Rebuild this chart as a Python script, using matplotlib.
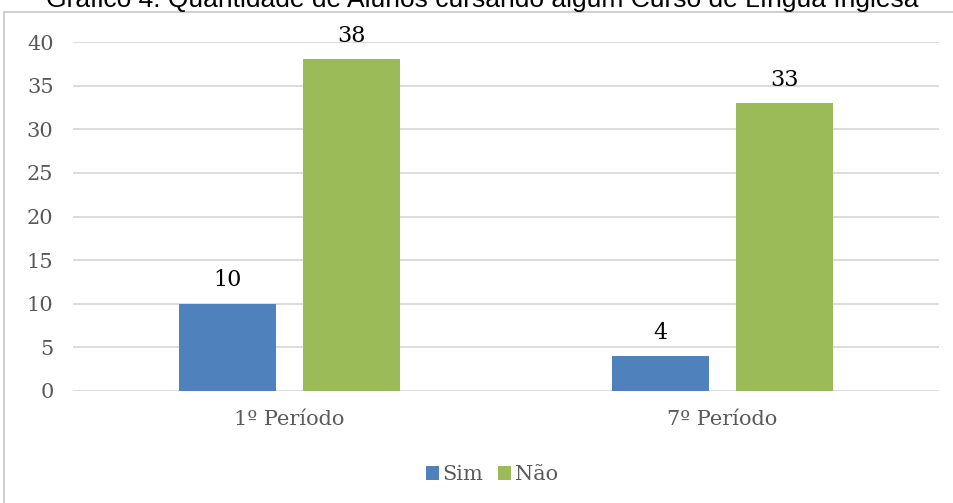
import numpy as np
import matplotlib
matplotlib.use("Agg")
import matplotlib.pyplot as plt
from matplotlib.patches import Rectangle

# data
categories = ["1º Período", "7º Período"]
sim = [10, 4]
nao = [38, 33]
yticks = [0, 5, 10, 15, 20, 25, 30, 35, 40]

blue = "#4F81BD"
green = "#9BBB59"
grey_txt = "#595959"
serif = ["DejaVu Serif"]

W, H = 954, 503
fig = plt.figure(figsize=(W / 100, H / 100), dpi=100)

# plot area in pixels: x 73..939, y 42..391
ax = fig.add_axes([73 / W, (H - 391) / H, (939 - 73) / W, (391 - 42) / H])

x = np.arange(len(categories))
bw = 0.224
off = 0.143
b1 = ax.bar(x - off, sim, bw, color=blue, label="Sim", zorder=3)
b2 = ax.bar(x + off, nao, bw, color=green, label="Não", zorder=3)

for bars, vals in ((b1, sim), (b2, nao)):
    for r, v in zip(bars, vals):
        ax.annotate(str(v), (r.get_x() + r.get_width() / 2, v),
                    xytext=(0, 9), textcoords="offset points",
                    ha="center", va="bottom", fontsize=16,
                    family=serif, color="black")

ax.set_ylim(0, 40)
ax.set_xlim(-0.5, 1.5)
ax.set_yticks(yticks)
ax.set_yticklabels([str(t) for t in yticks], family=serif, fontsize=15, color=grey_txt)
ax.set_xticks(x)
ax.set_xticklabels(categories, family=serif, fontsize=15, color=grey_txt)
ax.tick_params(axis="both", length=0)
ax.tick_params(axis="x", pad=14)
ax.tick_params(axis="y", pad=14)
ax.grid(axis="y", color="#D9D9D9", linewidth=1.3, zorder=0)
for s in ax.spines.values():
    s.set_visible(False)

leg = fig.legend(handles=[b1, b2], labels=["Sim", "Não"], loc="center",
                 bbox_to_anchor=(492 / W, (H - 475) / H), ncol=2, frameon=False,
                 handlelength=0.62, handleheight=0.62, handletextpad=0.2,
                 columnspacing=0.7, prop={"family": serif, "size": 15})
for t in leg.get_texts():
    t.set_color(grey_txt)

# chart border (cropped on right and bottom)
fig.patches.append(Rectangle((4.5 / W, -0.1), 1.2, (H - 12) / H + 0.1,
                             transform=fig.transFigure, fill=False,
                             edgecolor="#D0D0D0", linewidth=1.5))

# title sits partly above the picture, as in the cropped original
fig.text(482 / W, (H - 7.5) / H, "Gráfico 4: Quantidade de Alunos cursando algum Curso de Língua Inglesa",
         ha="center", va="baseline", fontsize=19, family="Liberation Sans", color="black")

fig.savefig("out.png", dpi=100)
